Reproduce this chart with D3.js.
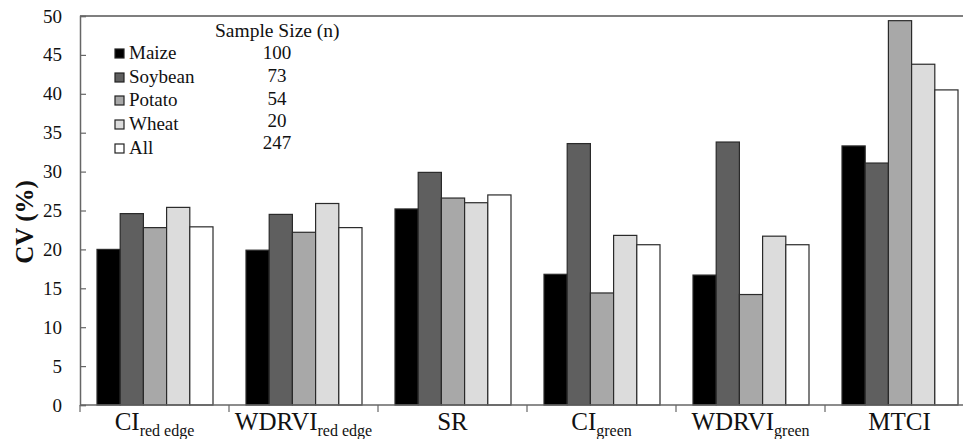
<!DOCTYPE html>
<html lang="en">
<head>
<meta charset="UTF-8">
<title>CV chart</title>
<script src="https://cdn.jsdelivr.net/npm/d3@7"></script>
<style>
  body { margin: 0; background: #fff; }
  svg text { fill: #111; }
</style>
</head>
<body>
<svg id="chart" width="963" height="439"></svg>
<script>
// indices (main name + subscript)
const indexNames = ["CI", "WDRVI", "SR", "CI", "WDRVI", "MTCI"];
const indexSubs = ["red edge", "red edge", "", "green", "green", ""];

const crops = ["Maize", "Soybean", "Potato", "Wheat", "All"];
const sampleSizes = ["100", "73", "54", "20", "247"];
const cropColors = ["#000000", "#5f5f5f", "#a8a8a8", "#dcdcdc", "#ffffff"];

// CV (%) per crop, one entry per index
const maize   = [20.0, 19.9, 25.2, 16.8, 16.7, 33.3];
const soybean = [24.6, 24.5, 29.9, 33.6, 33.8, 31.1];
const potato  = [22.8, 22.2, 26.6, 14.4, 14.2, 49.4];
const wheat   = [25.4, 25.9, 26.0, 21.8, 21.7, 43.8];
const all     = [22.9, 22.8, 27.0, 20.6, 20.6, 40.5];
const series = [maize, soybean, potato, wheat, all];

const yTicks = [0, 5, 10, 15, 20, 25, 30, 35, 40, 45, 50];

const serif = "'Times New Roman', 'Liberation Serif', serif";
const svg = d3.select("#chart");
const mLeft = 80, mTop = 16, mBottom = 405, mRight = 974;

const x = d3.scaleBand().domain(d3.range(indexNames.length)).range([mLeft, mRight]);
const xi = d3.scaleBand().domain(d3.range(crops.length)).range([17, x.bandwidth() - 16]);
const y = d3.scaleLinear().domain([0, 50]).range([mBottom, mTop]);

const axisColor = "#666";

// bars
crops.forEach(function (c, ci) {
  svg.append("g").selectAll("rect")
    .data(series[ci])
    .join("rect")
    .attr("x", (d, i) => x(i) + xi(ci))
    .attr("y", d => y(d))
    .attr("width", xi.bandwidth())
    .attr("height", d => y(0) - y(d))
    .attr("fill", cropColors[ci])
    .attr("stroke", "#2a2a2a")
    .attr("stroke-width", 1.2);
});

// top frame line
svg.append("line").attr("x1", mLeft).attr("x2", mRight).attr("y1", mTop).attr("y2", mTop)
  .attr("stroke", "#555").attr("stroke-width", 1.5);

// y axis, ticks pointing inward
const yAxis = svg.append("g").attr("transform", `translate(${mLeft},0)`)
  .attr("font-family", serif)
  .call(d3.axisLeft(y).tickValues(yTicks).tickSize(-6).tickPadding(18));
yAxis.attr("font-family", serif).attr("font-size", 19);
yAxis.select(".domain").attr("stroke", axisColor).attr("stroke-width", 1.5);
yAxis.selectAll(".tick line").attr("stroke", axisColor).attr("stroke-width", 1.2);
yAxis.selectAll("text").style("font-family", serif).style("font-size", "19px").attr("fill", "#111");

// x axis line and ticks at category boundaries
svg.append("line").attr("x1", mLeft).attr("x2", mRight).attr("y1", mBottom).attr("y2", mBottom)
  .attr("stroke", axisColor).attr("stroke-width", 1.5);
svg.append("g").selectAll("line")
  .data(d3.range(indexNames.length + 1))
  .join("line")
  .attr("x1", i => mLeft + i * x.step()).attr("x2", i => mLeft + i * x.step())
  .attr("y1", mBottom).attr("y2", mBottom + 7)
  .attr("stroke", axisColor).attr("stroke-width", 1.2);

// x labels with subscripts
indexNames.forEach(function (n, i) {
  const t = svg.append("text")
    .attr("x", x(i) + x.bandwidth() / 2)
    .attr("y", 430)
    .attr("text-anchor", "middle")
    .style("font-family", serif)
    .style("font-size", "25px");
  t.append("tspan").text(n);
  if (indexSubs[i]) {
    t.append("tspan").style("font-size", "16px").attr("dy", 6).text(indexSubs[i]);
  }
});

// y label
svg.append("text")
  .attr("transform", "translate(33,222) rotate(-90)")
  .attr("text-anchor", "middle")
  .style("font-family", serif)
  .style("font-size", "25px")
  .style("font-weight", "bold")
  .text("CV (%)");

// legend
svg.append("text").attr("x", 215).attr("y", 37).style("font-family", serif)
  .style("font-size", "19.5px").text("Sample Size (n)");
const rowY = [59, 83, 106, 130, 154];
const numY = [59, 82, 105, 127, 149];
crops.forEach(function (c, i) {
  svg.append("rect").attr("x", 115).attr("y", rowY[i] - 10).attr("width", 9).attr("height", 9)
    .attr("fill", cropColors[i]).attr("stroke", "#222").attr("stroke-width", 1.2);
  svg.append("text").attr("x", 129).attr("y", rowY[i]).style("font-family", serif)
    .style("font-size", "19px").text(c);
  svg.append("text").attr("x", 277).attr("y", numY[i]).style("font-family", serif)
    .style("font-size", "19px").attr("text-anchor", "middle").text(sampleSizes[i]);
});
</script>
</body>
</html>
